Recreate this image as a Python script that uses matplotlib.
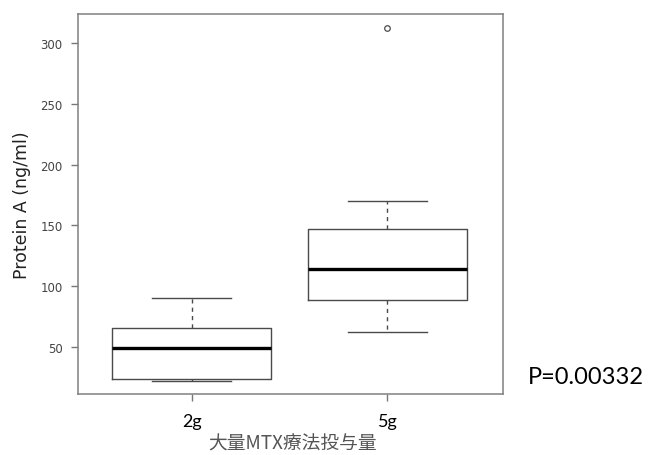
import matplotlib
matplotlib.use('Agg')
import matplotlib.pyplot as plt

# box statistics
groups = ['2g', '5g']
q1 = [23.5, 89.0]
med = [49.0, 114.5]
q3 = [65.5, 147.5]
whislo = [22.0, 62.0]
whishi = [90.5, 170.0]
fliers = [[], [312.0]]
yticks = [50, 100, 150, 200, 250, 300]
p_text = 'P=0.00332'

fig = plt.figure(figsize=(6.48, 4.56), dpi=100)
ax = fig.add_axes([78 / 648, 1 - 395 / 456, 425 / 648, 380 / 456])

stats = []
for i, g in enumerate(groups):
    stats.append(dict(label=g, q1=q1[i], med=med[i], q3=q3[i],
                      whislo=whislo[i], whishi=whishi[i], fliers=fliers[i]))

box_col = '#4a4a4a'
ax.bxp(stats, positions=[1, 2], widths=0.81, showfliers=True,
       boxprops=dict(color=box_col, lw=1.0),
       whiskerprops=dict(color=box_col, lw=1.0, linestyle=(0, (3, 3))),
       capprops=dict(color=box_col, lw=1.0),
       capwidths=0.405,
       medianprops=dict(color='black', lw=2.4),
       flierprops=dict(marker='o', markersize=4, markerfacecolor='none',
                       markeredgecolor=box_col, markeredgewidth=0.9))

ax.set_xlim(0.42, 2.59)
ax.set_ylim(11.4, 323.9)
ax.set_yticks(yticks)
ax.set_yticklabels([str(v) for v in yticks], fontsize=8.5, color='#444444',
                   family='DejaVu Sans')
ax.set_xticks([1, 2])
ax.set_xticklabels(groups, fontsize=13, family='Lato', color='black')
ax.tick_params(axis='y', length=5, width=1, color='#777777', pad=6)
ax.tick_params(axis='x', length=5, width=1, color='#777777', pad=9)
for s in ax.spines.values():
    s.set_color('#808080')
    s.set_linewidth(1.1)

ax.set_ylabel('Protein A (ng/ml)', fontsize=12.5, color='#222222',
              family='DejaVu Sans', labelpad=7)

fig.text(293 / 648, 1 / 456, '大量MTX療法投与量', ha='center', va='bottom',
         fontsize=13.5, color='#555555', family=['Noto Sans CJK JP', 'DejaVu Sans'])
fig.text(528 / 648, 1 - 378 / 456, p_text, ha='left', va='center',
         fontsize=17, color='black', family='Lato')

fig.savefig('out.png', dpi=100)
